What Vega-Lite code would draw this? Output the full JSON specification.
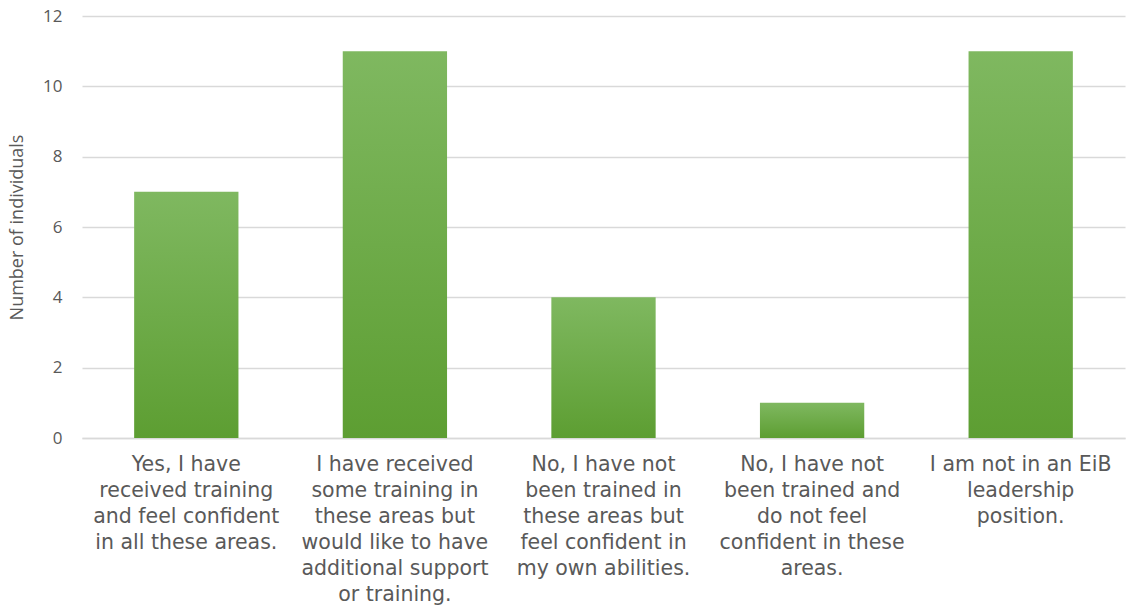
{
  "$schema": "https://vega.github.io/schema/vega-lite/v6.json",
  "width": 1043,
  "height": 422,
  "autosize": {"type": "none"},
  "padding": {"left": 82, "top": 16, "right": 3, "bottom": 176},
  "background": "white",
  "config": {"view": {"stroke": null}},
  "data": {
    "values": [
      {"response": "Yes, I have|received training|and feel confident|in all these areas.", "order": 1, "count": 7},
      {"response": "I have received|some training in|these areas but|would like to have|additional support|or training.", "order": 2, "count": 11},
      {"response": "No, I have not|been trained in|these areas but|feel confident in|my own abilities.", "order": 3, "count": 4},
      {"response": "No, I have not|been trained and|do not feel|confident in these|areas.", "order": 4, "count": 1},
      {"response": "I am not in an EiB|leadership|position.", "order": 5, "count": 11}
    ]
  },
  "mark": {
    "type": "bar",
    "color": {
      "gradient": "linear",
      "x1": 0, "y1": 0, "x2": 0, "y2": 1,
      "stops": [
        {"offset": 0, "color": "#7fb860"},
        {"offset": 1, "color": "#5d9e32"}
      ]
    }
  },
  "encoding": {
    "x": {
      "field": "response",
      "type": "nominal",
      "sort": {"field": "order"},
      "scale": {"paddingInner": 0.5, "paddingOuter": 0.25},
      "axis": {
        "title": null,
        "labelAngle": 0,
        "labelExpr": "split(datum.label, '|')",
        "labelFont": "DejaVu Sans",
        "labelFontSize": 20.5,
        "labelLineHeight": 26,
        "labelColor": "#595959",
        "labelPadding": 16,
        "labelLimit": 0,
        "ticks": false,
        "domainColor": "#d9d9d9",
        "domainWidth": 1.5
      }
    },
    "y": {
      "field": "count",
      "type": "quantitative",
      "scale": {"domain": [0, 12]},
      "axis": {
        "title": "Number of individuals",
        "titleFont": "Open Sans",
        "titleFontSize": 18,
        "titleFontWeight": "normal",
        "titleColor": "#595959",
        "titlePadding": 16,
        "values": [0, 2, 4, 6, 8, 10, 12],
        "labelFont": "Open Sans",
        "labelFontSize": 17,
        "labelColor": "#595959",
        "labelPadding": 20,
        "ticks": false,
        "domain": false,
        "grid": true,
        "gridColor": "#d9d9d9",
        "gridWidth": 1.5
      }
    }
  }
}
